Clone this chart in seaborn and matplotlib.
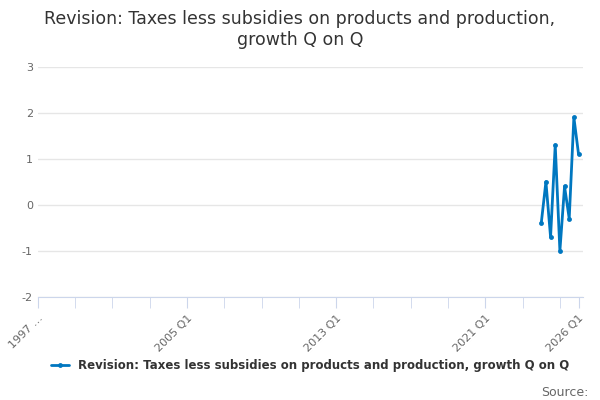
import matplotlib
matplotlib.use("Agg")
import matplotlib.pyplot as plt
import seaborn as sns
import pandas as pd

# quarters since 1997 Q1
quarters = ["2024 Q1", "2024 Q2", "2024 Q3", "2024 Q4", "2025 Q1",
            "2025 Q2", "2025 Q3", "2025 Q4", "2026 Q1"]
values = [-0.4, 0.5, -0.7, 1.3, -1.0, 0.4, -0.3, 1.9, 1.1]
tick_labels = ["1997 …", "2005 Q1", "2013 Q1", "2021 Q1", "2026 Q1"]
tick_pos = [0, 32, 64, 96, 116]

def qidx(q):
    y, n = q.split(" Q")
    return (int(y) - 1997) * 4 + int(n) - 1

df = pd.DataFrame({"x": [qidx(q) for q in quarters], "v": values})
name = "Revision: Taxes less subsidies on products and production, growth Q on Q"
color = "#0077c0"

sns.set_style("white")
plt.rcParams["axes.unicode_minus"] = False
fig, ax = plt.subplots(figsize=(6, 4), dpi=100)
fig.subplots_adjust(left=0.063, right=0.972, top=0.833, bottom=0.258)
sns.lineplot(data=df, x="x", y="v", ax=ax, color=color, marker="o",
             markersize=3.5, markeredgewidth=0, linewidth=2, label=name)

ax.set_xlim(0, 117)
ax.set_ylim(-2, 3)
ax.set_yticks(range(-2, 4))
ax.yaxis.grid(True, color="#e6e6e6", linewidth=1)
ax.set_xticks(tick_pos)
ax.set_xticklabels(tick_labels, rotation=45, ha="right", rotation_mode="anchor",
                   fontsize=8, color="#666666")
ax.set_xticks(range(0, 117, 8), minor=True)
ax.tick_params(axis="x", which="both", length=8, color="#ccd6eb", bottom=True)
ax.tick_params(axis="y", length=0, labelsize=8, labelcolor="#666666")
ax.set_xlabel("")
ax.set_ylabel("")
for s in ["top", "right", "left"]:
    ax.spines[s].set_visible(False)
ax.spines["bottom"].set_color("#ccd6eb")

fig.suptitle("Revision: Taxes less subsidies on products and production,\ngrowth Q on Q",
             fontsize=12.5, color="#333333", y=0.975)
ax.legend(loc="upper center", bbox_to_anchor=(0.5, -0.25), frameon=False,
          prop={"size": 8.5, "weight": "bold"}, labelcolor="#333333",
          handlelength=1.5, borderaxespad=0)
fig.text(0.98, 0.01, "Source:", ha="right", fontsize=9, color="#666666")
fig.savefig("out.png")
